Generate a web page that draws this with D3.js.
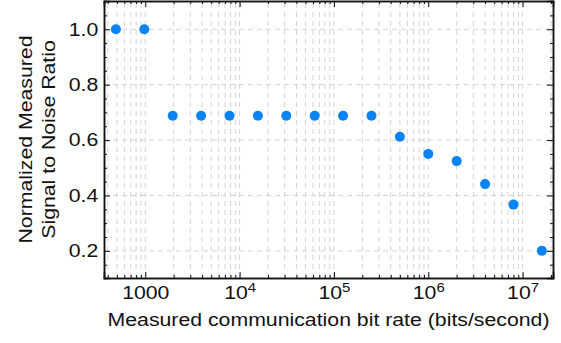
<!DOCTYPE html>
<html>
<head>
<meta charset="utf-8">
<script src="https://cdn.jsdelivr.net/npm/d3@7"></script>
<style>
  body { margin: 0; background: #fff; }
  text { font-family: "Liberation Sans", Arial, sans-serif; fill: #111; }
</style>
</head>
<body>
<script>
// measured bit rates (bits/second) and normalized SNR
const bitRates = [488.28125, 976.5625, 1953.125, 3906.25, 7812.5, 15625, 31250, 62500,
  125000, 250000, 500000, 1000000, 2000000, 4000000, 8000000, 16000000];
const snr = [1.0, 1.0, 0.688, 0.688, 0.688, 0.688, 0.688, 0.688,
  0.688, 0.688, 0.612, 0.55, 0.524, 0.441, 0.367, 0.2];
const xTickValues = [1000, 1e4, 1e5, 1e6, 1e7];
const yTickValues = [0.2, 0.4, 0.6, 0.8, 1.0];

const width = 561;
const height = 343;
const margin = { top: 1, right: 8, bottom: 65, left: 104 };
const fontSize = 18.5;
const stretch = 1.15; // the original font runs wider than Liberation Sans

const svg = d3.select("body").append("svg")
  .attr("width", width)
  .attr("height", height);

const x = d3.scaleLog()
  .domain([365, 2.1e7])
  .range([margin.left, width - margin.right]);

const y = d3.scaleLinear()
  .domain([0.102, 1.102])
  .range([height - margin.bottom, margin.top]);

// minor log ticks (2..9 per decade)
const minorX = [];
for (let e = 2; e <= 7; e++) {
  for (let m = 2; m <= 9; m++) {
    const v = m * Math.pow(10, e);
    if (v >= x.domain()[0] && v <= x.domain()[1]) minorX.push(v);
  }
}
const minorY = d3.range(0.15, 1.1, 0.05).map((d) => +d.toFixed(2))
  .filter((d) => !yTickValues.some((t) => Math.abs(t - d) < 1e-6));

const grid = svg.append("g")
  .attr("stroke", "#d4d4d4")
  .attr("stroke-width", 1)
  .attr("stroke-dasharray", "5,4");

grid.selectAll(".gx")
  .data(xTickValues.concat(minorX))
  .join("line")
  .attr("x1", (d) => x(d)).attr("x2", (d) => x(d))
  .attr("y1", y.range()[0]).attr("y2", y.range()[1]);

grid.selectAll(".gy")
  .data(yTickValues)
  .join("line")
  .attr("x1", x.range()[0]).attr("x2", x.range()[1])
  .attr("y1", (d) => y(d)).attr("y2", (d) => y(d));

// frame axes with inward ticks
const fmtX = (d) => (d === 1000 ? "1000" : "");

const axBottom = svg.append("g")
  .attr("transform", `translate(0,${y.range()[0]})`)
  .call(d3.axisBottom(x).tickValues(xTickValues).tickSize(-6).tickPadding(8).tickFormat(fmtX));
const axBottomMinor = svg.append("g")
  .attr("transform", `translate(0,${y.range()[0]})`)
  .call(d3.axisBottom(x).tickValues(minorX).tickSize(-3).tickFormat(""));
const axTop = svg.append("g")
  .attr("transform", `translate(0,${y.range()[1]})`)
  .call(d3.axisTop(x).tickValues(xTickValues).tickSize(-6).tickFormat(""));
const axTopMinor = svg.append("g")
  .attr("transform", `translate(0,${y.range()[1]})`)
  .call(d3.axisTop(x).tickValues(minorX).tickSize(-3).tickFormat(""));

const axLeft = svg.append("g")
  .attr("transform", `translate(${x.range()[0]},0)`)
  .call(d3.axisLeft(y).tickValues(yTickValues).tickSize(-6).tickPadding(5).tickFormat(d3.format(".1f")));
const axLeftMinor = svg.append("g")
  .attr("transform", `translate(${x.range()[0]},0)`)
  .call(d3.axisLeft(y).tickValues(minorY).tickSize(-3).tickFormat(""));
const axRight = svg.append("g")
  .attr("transform", `translate(${x.range()[1]},0)`)
  .call(d3.axisRight(y).tickValues(yTickValues).tickSize(-6).tickFormat(""));
const axRightMinor = svg.append("g")
  .attr("transform", `translate(${x.range()[1]},0)`)
  .call(d3.axisRight(y).tickValues(minorY).tickSize(-3).tickFormat(""));

[axBottom, axBottomMinor, axTop, axTopMinor, axLeft, axLeftMinor, axRight, axRightMinor].forEach((g) => {
  g.select(".domain").attr("stroke", "#111").attr("stroke-width", 1.5);
  g.selectAll(".tick line").attr("stroke", "#111").attr("stroke-width", 1);
  g.selectAll("text").attr("font-size", fontSize).attr("fill", "#111")
    .attr("font-family", "Liberation Sans, Arial, sans-serif")
    .attr("transform", `scale(${stretch},1)`);
});

// power-of-ten labels with superscripts
axBottom.selectAll(".tick text")
  .each(function (d) {
    if (d === 1000) return;
    const t = d3.select(this);
    t.append("tspan").text("10");
    t.append("tspan").attr("dy", -7).attr("font-size", 13).text(Math.round(Math.log10(d)));
  });

// dots
svg.append("g")
  .selectAll("circle")
  .data(bitRates.map((b, i) => ({ b, s: snr[i] })))
  .join("circle")
  .attr("cx", (d) => x(d.b))
  .attr("cy", (d) => y(d.s))
  .attr("r", 5)
  .attr("fill", "#0a84f5");

// axis titles
svg.append("text")
  .attr("transform", `translate(${(x.range()[0] + x.range()[1]) / 2},326) scale(${stretch},1)`)
  .attr("text-anchor", "middle")
  .attr("font-size", fontSize)
  .text("Measured communication bit rate (bits/second)");

const yTitle = svg.append("text")
  .attr("transform", `translate(32,${(y.range()[0] + y.range()[1]) / 2}) rotate(-90) scale(${stretch},1)`)
  .attr("text-anchor", "middle")
  .attr("font-size", fontSize);
yTitle.append("tspan").attr("x", 0).attr("dy", 0).text("Normalized Measured");
yTitle.append("tspan").attr("x", 0).attr("dy", 23).text("Signal to Noise Ratio");
</script>
</body>
</html>
